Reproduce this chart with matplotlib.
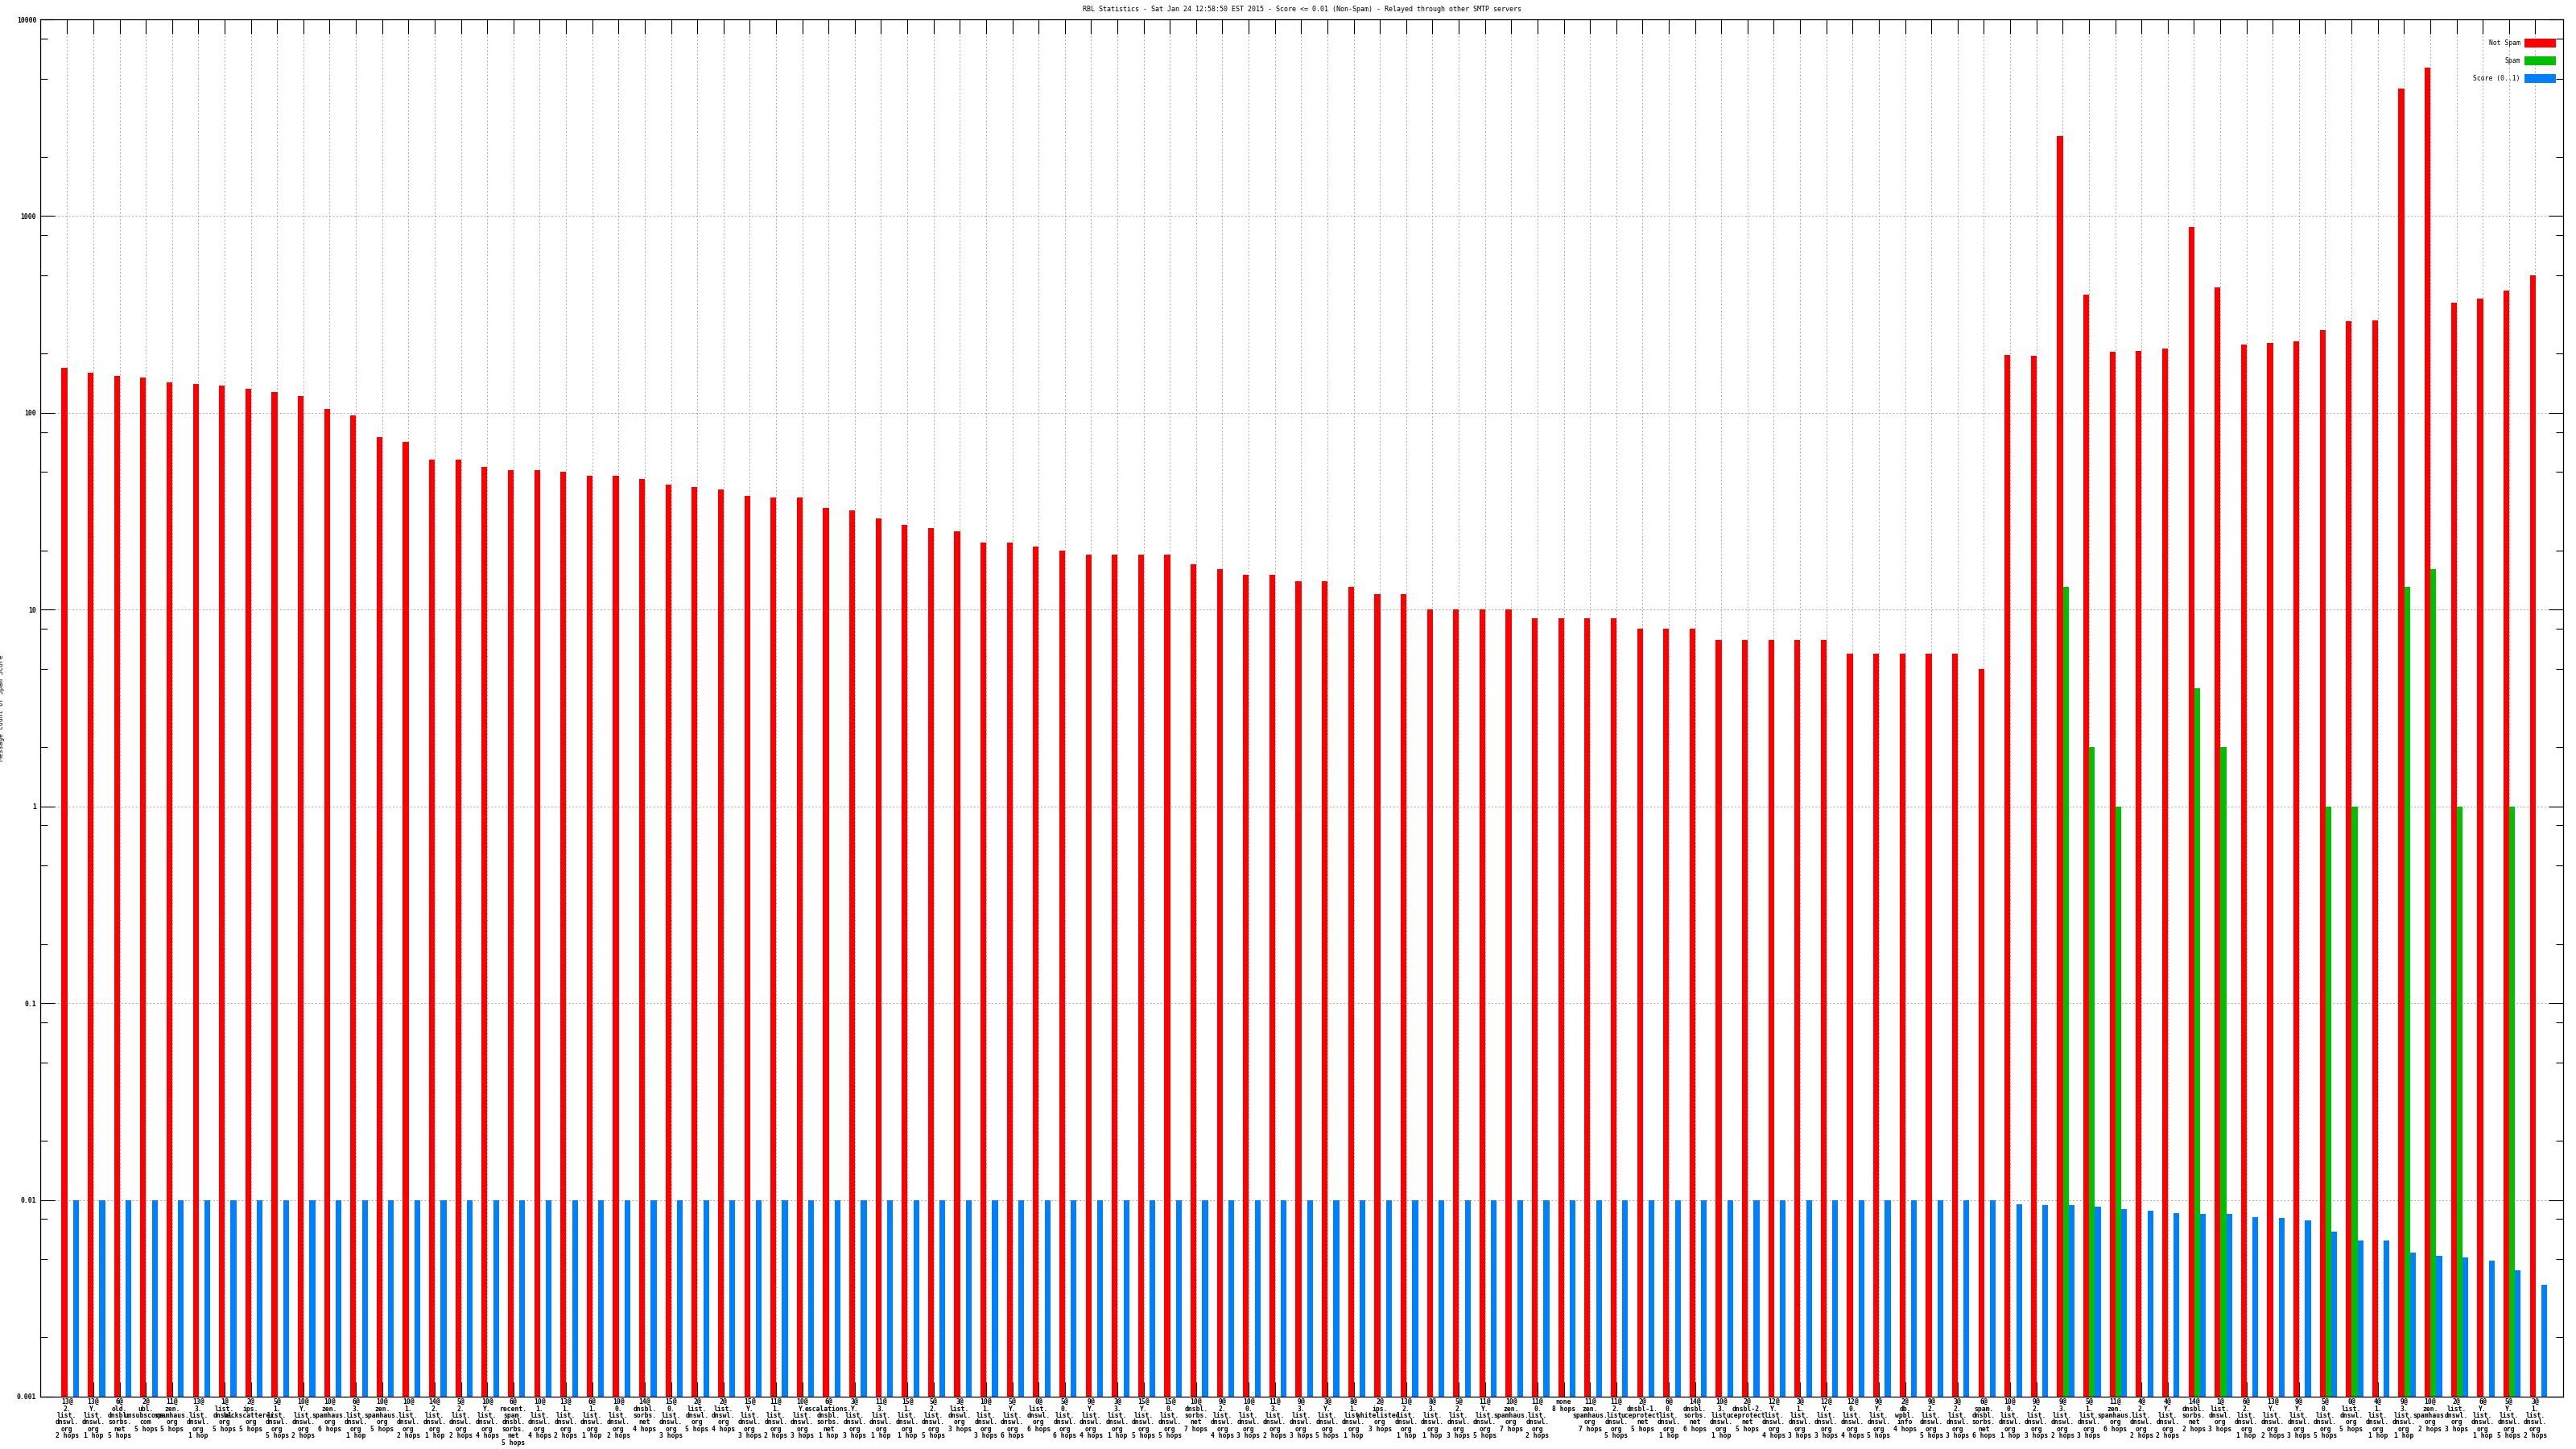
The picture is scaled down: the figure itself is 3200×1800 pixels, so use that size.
import numpy as np
import matplotlib
matplotlib.use('Agg')
import matplotlib.pyplot as plt
from matplotlib.patches import Rectangle
from matplotlib.ticker import FixedLocator, NullFormatter

# ---- data ----
title = ("RBL Statistics - Sat Jan 24 12:58:50 EST 2015 - Score <= 0.01 (Non-Spam)"
         " - Relayed through other SMTP servers")

sources = [
    "13@2.list.dnswl.org", "13@Y.list.dnswl.org", "6@old.dnsbl.sorbs.net", "2@ubl.unsubscore.com",
    "11@zen.spamhaus.org", "13@3.list.dnswl.org", "1@list.dnswl.org", "2@ips.backscatterer.org",
    "5@1.list.dnswl.org", "10@Y.list.dnswl.org", "10@zen.spamhaus.org", "6@3.list.dnswl.org",
    "10@zen.spamhaus.org", "10@1.list.dnswl.org", "14@2.list.dnswl.org", "5@2.list.dnswl.org",
    "10@Y.list.dnswl.org", "6@recent.spam.dnsbl.sorbs.net", "10@1.list.dnswl.org", "13@1.list.dnswl.org",
    "6@1.list.dnswl.org", "10@0.list.dnswl.org", "14@dnsbl.sorbs.net", "15@0.list.dnswl.org",
    "2@list.dnswl.org", "2@list.dnswl.org", "15@Y.list.dnswl.org", "11@1.list.dnswl.org",
    "10@Y.list.dnswl.org", "6@escalations.dnsbl.sorbs.net", "3@Y.list.dnswl.org", "11@3.list.dnswl.org",
    "15@1.list.dnswl.org", "5@2.list.dnswl.org", "3@list.dnswl.org", "10@1.list.dnswl.org",
    "5@Y.list.dnswl.org", "0@list.dnswl.org", "5@0.list.dnswl.org", "9@Y.list.dnswl.org",
    "3@3.list.dnswl.org", "15@Y.list.dnswl.org", "15@0.list.dnswl.org", "10@dnsbl.sorbs.net",
    "9@2.list.dnswl.org", "10@0.list.dnswl.org", "11@3.list.dnswl.org", "9@3.list.dnswl.org",
    "3@Y.list.dnswl.org", "8@1.list.dnswl.org", "2@ips.whitelisted.org", "13@2.list.dnswl.org",
    "8@3.list.dnswl.org", "5@2.list.dnswl.org", "11@Y.list.dnswl.org", "10@zen.spamhaus.org",
    "11@0.list.dnswl.org", "none", "11@zen.spamhaus.org", "11@2.list.dnswl.org",
    "2@dnsbl-1.uceprotect.net", "6@0.list.dnswl.org", "14@dnsbl.sorbs.net", "10@3.list.dnswl.org",
    "2@dnsbl-2.uceprotect.net", "12@Y.list.dnswl.org", "3@1.list.dnswl.org", "12@Y.list.dnswl.org",
    "12@0.list.dnswl.org", "9@Y.list.dnswl.org", "2@db.wpbl.info", "9@2.list.dnswl.org",
    "3@2.list.dnswl.org", "6@spam.dnsbl.sorbs.net", "10@0.list.dnswl.org", "9@2.list.dnswl.org",
    "9@3.list.dnswl.org", "5@1.list.dnswl.org", "11@zen.spamhaus.org", "4@2.list.dnswl.org",
    "4@Y.list.dnswl.org", "14@dnsbl.sorbs.net", "1@list.dnswl.org", "6@2.list.dnswl.org",
    "13@Y.list.dnswl.org", "9@Y.list.dnswl.org", "5@0.list.dnswl.org", "0@list.dnswl.org",
    "4@1.list.dnswl.org", "9@3.list.dnswl.org", "10@zen.spamhaus.org", "2@list.dnswl.org",
    "6@Y.list.dnswl.org", "5@Y.list.dnswl.org", "3@1.list.dnswl.org",
]

hops = [
    2, 1, 5, 5, 5, 1, 5, 5, 5, 2, 6, 1, 5, 2, 1, 2, 4, 5, 4, 2,
    1, 2, 4, 3, 5, 4, 3, 2, 3, 1, 3, 1, 1, 5, 3, 3, 6, 6, 6, 4,
    1, 5, 5, 7, 4, 3, 2, 3, 5, 1, 3, 1, 1, 3, 5, 7, 2, 8, 7, 5,
    5, 1, 6, 1, 5, 4, 3, 3, 4, 5, 4, 5, 3, 6, 1, 3, 2, 3, 6, 2,
    2, 2, 3, 1, 2, 3, 5, 5, 1, 1, 2, 3, 1, 5, 2,
]

not_spam = [
    169, 160, 154, 151, 143, 140, 137, 132, 127, 122, 105, 97, 75, 71, 58, 58, 53, 51, 51, 50,
    48, 48, 46, 43, 42, 41, 38, 37, 37, 33, 32, 29, 27, 26, 25, 22, 22, 21, 20, 19,
    19, 19, 19, 17, 16, 15, 15, 14, 14, 13, 12, 12, 10, 10, 10, 10, 9, 9, 9, 9,
    8, 8, 8, 7, 7, 7, 7, 7, 6, 6, 6, 6, 6, 5, 197, 195, 2546, 400, 205, 207,
    213, 877, 436, 223, 227, 232, 264, 293, 296, 4450, 5680, 364, 382, 420, 498,
]

spam = [0] * 76 + [13, 2, 1, 0, 0, 4, 2, 0, 0, 0, 1, 1, 0, 13, 16, 1, 0, 1, 0]

score = [0.01] * 74 + [
    0.0095, 0.0094, 0.0094, 0.0092, 0.0090, 0.0088, 0.0086, 0.0085, 0.0085, 0.0082,
    0.0081, 0.0079, 0.0069, 0.0062, 0.0062, 0.0054, 0.0052, 0.0051, 0.0049, 0.0044, 0.0037,
]

# ---- style ----
plt.rcParams['font.family'] = 'DejaVu Sans Mono'
FS = 5.8
RED, GREEN, BLUE = '#ff0000', '#00c000', '#0080ff'


def wrap(src, h):
    # gnuplot-like label: count@ / host pieces split after each dot / hops
    if '@' in src:
        n, host = src.split('@')
        parts = host.split('.')
        lines = [n + '@'] + [p + '.' for p in parts[:-1]] + [parts[-1]]
    else:
        lines = [src]
    lines.append(f"{h} hop" + ("" if h == 1 else "s"))
    return "\n".join(lines)


tick_labels = [wrap(s, h) for s, h in zip(sources, hops)]

fig = plt.figure(figsize=(32, 18), dpi=100)
ax = fig.add_axes([50 / 3200, 1 - 1735 / 1800, (3184 - 50) / 3200, (1735 - 24) / 1800])

x = np.arange(len(sources))
w = 0.22
c = x + 0.12
ns = np.array(not_spam, dtype=float)
sp = np.array(spam, dtype=float)
sp[sp <= 0] = np.nan

ax.bar(c - w, ns, w, color=RED, linewidth=0)
ax.bar(c, sp, w, color=GREEN, linewidth=0)
ax.bar(c + w, score, w, color=BLUE, linewidth=0)

ax.set_yscale('log')
ax.set_ylim(0.001, 10000)
ax.set_xlim(-1.02, 95.06)

majors = [0.001, 0.01, 0.1, 1, 10, 100, 1000, 10000]
ax.yaxis.set_major_locator(FixedLocator(majors))
ax.set_yticklabels(['0.001', '0.01', '0.1', '1', '10', '100', '1000', '10000'], fontweight='bold')
minors = [m * d for d in majors[:-1] for m in (2, 5, 8)]
ax.yaxis.set_minor_locator(FixedLocator(minors))
ax.yaxis.set_minor_formatter(NullFormatter())

ax.set_xticks(x)
ax.set_xticklabels(tick_labels, linespacing=0.92, fontweight='bold')
ax.xaxis.set_minor_locator(FixedLocator([]))

ax.tick_params(axis='both', which='major', direction='in', length=13, width=0.8,
               top=True, right=True, labelsize=FS, pad=3.5)
ax.tick_params(axis='x', which='major', pad=1.5)
ax.tick_params(axis='y', which='minor', direction='in', length=6.5, width=0.8, right=True)
for s in ax.spines.values():
    s.set_linewidth(0.9)

ax.set_axisbelow(True)
ax.grid(True, which='major', axis='both', color='#a8a8a8', linestyle=(0, (2, 2.5)), linewidth=0.7)

ax.set_ylabel('Message Count or Spam Score', fontsize=FS)
ax.yaxis.set_label_coords(-44 / 3134, 0.5)

fig.text(0.5 * (50 + 3184) / 3200, 1 - 12 / 1800, title, ha='center', va='center', fontsize=6.0)

# legend, drawn by hand like the gnuplot key
for i, (name, col) in enumerate([('Not Spam', RED), ('Spam', GREEN), ('Score (0..1)', BLUE)]):
    yc = 53.5 + 22 * i
    fig.patches.append(Rectangle((3136 / 3200, 1 - (yc + 5.5) / 1800), 39 / 3200, 11 / 1800,
                                 transform=fig.transFigure, facecolor=col, edgecolor='none'))
    fig.text(3131 / 3200, 1 - yc / 1800, name, ha='right', va='center', fontsize=FS)

fig.savefig('out.png', dpi=100, facecolor='white')
